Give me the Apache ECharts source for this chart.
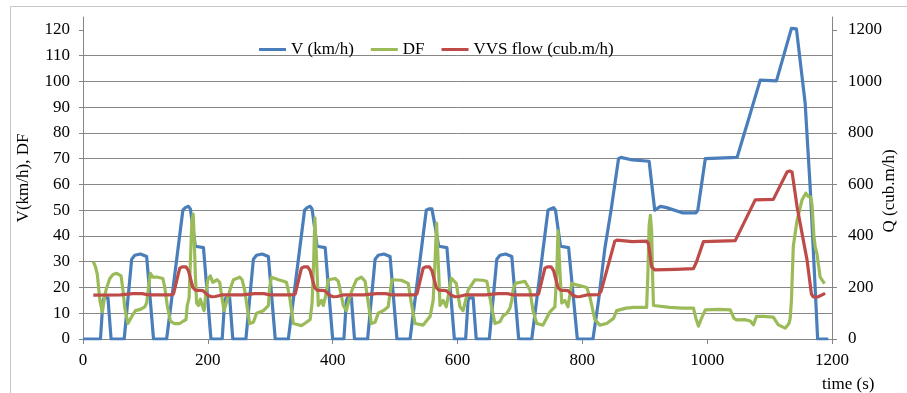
<!DOCTYPE html>
<html>
<head>
<meta charset="utf-8">
<script src="https://cdn.jsdelivr.net/npm/echarts@6/dist/echarts.min.js"></script>
<style>
  html, body { margin: 0; padding: 0; background: #fff; }
  #chart { width: 907px; height: 393px; }
</style>
</head>
<body>
<div id="chart"></div>
<script>
// [time s, km/h]
const speed = [
  [0, 0], [28, 0], [32, 15], [34, 16], [40, 16], [45, 0], [66, 0], [78, 31], [83, 32.5], [92, 33], [102, 32], [113, 0],
  [134, 0], [160, 50], [164, 51], [169, 51.5], [172, 50.5], [180, 36], [193, 35.5], [205, 0],
  [223, 0], [227, 15], [229, 16], [235, 16], [240, 0], [261, 0], [273, 31], [278, 32.5], [287, 33], [297, 32], [308, 0],
  [329, 0], [355, 50], [359, 51], [364, 51.5], [367, 50.5], [375, 36], [388, 35.5], [400, 0],
  [418, 0], [422, 15], [424, 16], [430, 16], [435, 0], [456, 0], [468, 31], [473, 32.5], [482, 33], [492, 32], [503, 0],
  [524, 0], [550, 50], [554, 50.5], [559, 50.5], [562, 50], [570, 36], [583, 35.5], [595, 0],
  [613, 0], [617, 15], [619, 16], [625, 16], [630, 0], [651, 0], [663, 31], [668, 32.5], [677, 33], [687, 32], [698, 0],
  [719, 0], [745, 50], [749, 50.5], [754, 51], [757, 50], [765, 36], [778, 35.5], [792, 0],
  [817, 0], [826, 15], [836, 35], [846, 50], [858, 70], [862, 70.5], [880, 69.5], [907, 69], [916, 50], [925, 51.5],
  [935, 51], [960, 49], [982, 49], [985, 50], [997, 70], [1000, 70.5], [1048, 70.5], [1058, 78.6], [1066, 85],
  [1077, 94], [1085, 100.5], [1111, 100.2], [1135, 120.6], [1143, 120.4], [1157, 91.5], [1165, 59], [1173, 20],
  [1177, 0], [1194, 0]
];

// [time s, DF]
const dragFactor = [
  [16.5, 30], [20, 28], [23, 25], [27, 15], [31, 10.5], [35, 17], [38, 20], [43, 23.5], [48, 25], [54, 25.5], [61, 24.5],
  [64, 19], [67, 12], [72, 6], [75, 5.5], [80, 9.5], [84, 11], [92, 11.5], [99, 12.5], [102, 14], [105, 20], [108, 25.5],
  [112, 24], [120, 24], [128, 23.5], [131, 20], [135, 13], [140, 7], [146, 6], [155, 6], [161, 7], [165, 7.5], [167, 13],
  [170, 16], [172, 30], [174.5, 46], [176.5, 48.5], [178, 40], [180, 25], [182, 14], [185, 13], [188, 15.5], [191, 13],
  [194, 11], [197, 18], [200, 23], [204, 24.5], [208, 22], [215, 23], [219, 22], [222, 17], [226, 11],
  [229, 11], [232, 16], [236, 19.5], [241, 23], [251, 24], [255, 23], [259, 19], [262, 14], [267, 6], [273, 6.5],
  [278, 10], [289, 11], [297, 13], [299, 20], [302, 24], [313, 23], [320, 22.5], [326, 22], [331, 16.5], [337, 6],
  [350, 5.2], [358, 6.5], [364, 7.6], [367, 14], [369.5, 30], [371.5, 47], [373, 38], [375, 26], [377, 13], [382, 15],
  [385, 13], [389, 17], [393, 23], [404, 23.5], [409, 22.4], [413, 18], [417, 13], [422, 11],
  [426, 15], [431, 19], [438, 23], [446, 24], [452, 22.4], [457, 14], [462, 6], [468, 6.5], [473, 10], [481, 11],
  [489, 12.5], [492, 18], [495, 23], [498, 23.6], [510, 22.8], [521, 21.6], [526, 14], [532, 6], [545, 5.4], [556, 8.7],
  [561, 15], [564, 30], [566.5, 45], [568, 36], [570, 25], [572, 13], [577, 15], [582, 12.5], [586, 18], [590, 23.6],
  [598, 21.6], [604, 12.5], [609, 11], [613, 15], [617, 19], [628, 23], [640, 22.8], [647, 22.4], [652, 16], [655, 12],
  [660, 6], [668, 6.7],
  [673, 9], [679, 10], [684, 12], [687, 15], [689, 19], [693, 21.6], [708, 22.4], [716, 19], [721, 11], [727, 6],
  [737, 5.4], [748, 10.5], [756, 12.5], [759, 25], [761, 42], [763, 32], [765, 22], [767, 14], [772, 15], [777, 12.5],
  [783, 21.6], [791, 21], [800, 20.5], [807, 20], [812, 16.5], [820, 7.6], [828, 5.4], [839, 6], [850, 8], [855, 11],
  [870, 12], [882, 12.3], [903, 12.3],
  [905, 25], [907, 44], [909, 48], [911, 42], [912.5, 25], [914, 13], [917, 12.5], [940, 12.3], [960, 12], [978, 12],
  [982, 8], [986, 5], [990, 7.5], [997, 11.3], [1020, 11.5], [1037, 11.3], [1043, 8], [1047, 7.4], [1060, 7.5],
  [1069, 7], [1074, 5.5], [1079, 8.8], [1090, 8.8], [1106, 8.5], [1114, 5.5], [1125, 4.2], [1131, 6], [1133, 8],
  [1135, 15], [1138, 36], [1144, 46], [1152, 54], [1158, 56.6], [1162, 55.3], [1166, 55], [1168, 52], [1171, 40],
  [1173, 36], [1176, 33], [1181, 24], [1188, 21.5]
];

// [time s, cub.m/h]
const vvsFlow = [
  [16.5, 170], [60, 171], [80, 176], [95, 176], [105, 171], [140, 171], [145, 175], [155, 275], [159, 280], [165, 280],
  [169, 265], [176, 200], [180, 190], [192, 188], [200, 170], [206, 164], [212, 165], [222, 171],
  [255, 171], [275, 176], [290, 176], [300, 171], [335, 171], [340, 175], [350, 275], [354, 280], [360, 280],
  [364, 265], [371, 200], [375, 190], [387, 188], [395, 170], [401, 164], [407, 165], [417, 171],
  [450, 171], [470, 176], [485, 176], [495, 171], [530, 171], [535, 175], [545, 275], [549, 280], [555, 280],
  [559, 265], [566, 200], [570, 190], [582, 188], [590, 170], [596, 164], [602, 165], [612, 171],
  [645, 171], [665, 176], [680, 176], [690, 171], [725, 171], [730, 175], [740, 275], [744, 280], [750, 280],
  [754, 265], [761, 200], [765, 190], [777, 188], [785, 170], [791, 164], [797, 165], [807, 171],
  [826, 172], [830, 185], [852, 380], [856, 384], [880, 378], [903, 380], [906, 370], [911, 280], [916, 268],
  [950, 270], [978, 273], [983, 300], [994, 378], [1020, 380], [1045, 382], [1077, 540], [1106, 542], [1128, 648],
  [1132, 652], [1136, 648], [1144, 514], [1152, 410], [1160, 307], [1167, 175], [1170, 163], [1177, 163], [1189, 177]
];

const timeTicks = [0, 200, 400, 600, 800, 1000, 1200];
const leftTicks = [0, 10, 20, 30, 40, 50, 60, 70, 80, 90, 100, 110, 120];
const rightTicks = [0, 200, 400, 600, 800, 1000, 1200];

const FONT = 'Liberation Serif';
const AXIS_GRAY = '#868686';

const chart = echarts.init(document.getElementById('chart'), null, { renderer: 'canvas' });

// plain numbers, no thousands separator
const plain = value => String(value);
const axisText = { fontFamily: FONT, fontSize: 17, color: '#000', formatter: plain };

chart.setOption({
  animation: false,
  backgroundColor: '#fff',
  textStyle: { fontFamily: FONT },
  grid: {
    left: 83,
    right: 75,
    top: 17,
    bottom: 54,
    containLabel: false,
    outerBoundsMode: 'none',
  },
  legend: {
    left: 254,
    top: 36,
    icon: 'rect',
    itemWidth: 27,
    itemHeight: 3,
    itemGap: 17,
    textStyle: { fontFamily: FONT, fontSize: 17, color: '#000' },
    data: ['V (km/h)', 'DF', 'VVS flow (cub.m/h)'],
  },
  xAxis: {
    type: 'value',
    min: 0,
    max: 1200,
    interval: 200,
    axisLine: { show: true, onZero: false, lineStyle: { color: AXIS_GRAY, width: 1 } },
    axisTick: { show: true, length: 5, customValues: timeTicks, lineStyle: { color: AXIS_GRAY } },
    axisLabel: { ...axisText, margin: 13, customValues: timeTicks },
    splitLine: { show: false },
  },
  yAxis: [
    {
      type: 'value',
      position: 'left',
      min: 0,
      max: 125,
      interval: 10,
      axisLine: { show: true, lineStyle: { color: AXIS_GRAY, width: 1 } },
      axisTick: { show: true, length: 4, customValues: leftTicks, lineStyle: { color: AXIS_GRAY } },
      axisLabel: { ...axisText, margin: 13, customValues: leftTicks },
      splitLine: { show: true, showMaxLine: false, lineStyle: { color: AXIS_GRAY, width: 1 } },
    },
    {
      type: 'value',
      position: 'right',
      min: 0,
      max: 1250,
      interval: 200,
      axisLine: { show: true, lineStyle: { color: AXIS_GRAY, width: 1 } },
      axisTick: { show: true, length: 5, customValues: rightTicks, lineStyle: { color: AXIS_GRAY } },
      axisLabel: { ...axisText, margin: 16, customValues: rightTicks },
      splitLine: { show: false },
    },
  ],
  graphic: [
    {
      type: 'rect',
      silent: true,
      z: -10,
      shape: { x: 10.5, y: 6.5, width: 1000, height: 1000 },
      style: { fill: 'none', stroke: '#c6c6c6', lineWidth: 1 },
    },
    {
      type: 'text',
      x: 24,
      y: 178,
      rotation: Math.PI / 2,
      style: { text: 'V(km/h), DF', font: `17px "${FONT}"`, fill: '#000', align: 'center', verticalAlign: 'middle' },
    },
    {
      type: 'text',
      x: 890,
      y: 191,
      rotation: Math.PI / 2,
      style: { text: 'Q (cub.m/h)', font: `17px "${FONT}"`, fill: '#000', align: 'center', verticalAlign: 'middle' },
    },
    {
      type: 'text',
      x: 822,
      y: 385,
      style: { text: 'time (s)', font: `17px "${FONT}"`, fill: '#000', align: 'left', verticalAlign: 'middle' },
    },
  ],
  series: [
    {
      name: 'V (km/h)',
      type: 'line',
      yAxisIndex: 0,
      symbol: 'none',
      color: '#4a7ebb',
      lineStyle: { width: 3.2, color: '#4a7ebb', join: 'round' },
      data: speed,
    },
    {
      name: 'DF',
      type: 'line',
      yAxisIndex: 0,
      symbol: 'none',
      color: '#9bbb59',
      lineStyle: { width: 3.2, color: '#9bbb59', join: 'round' },
      data: dragFactor,
    },
    {
      name: 'VVS flow (cub.m/h)',
      type: 'line',
      yAxisIndex: 1,
      symbol: 'none',
      color: '#be4b48',
      lineStyle: { width: 3.2, color: '#be4b48', join: 'round' },
      data: vvsFlow,
    },
  ],
});
</script>
</body>
</html>
